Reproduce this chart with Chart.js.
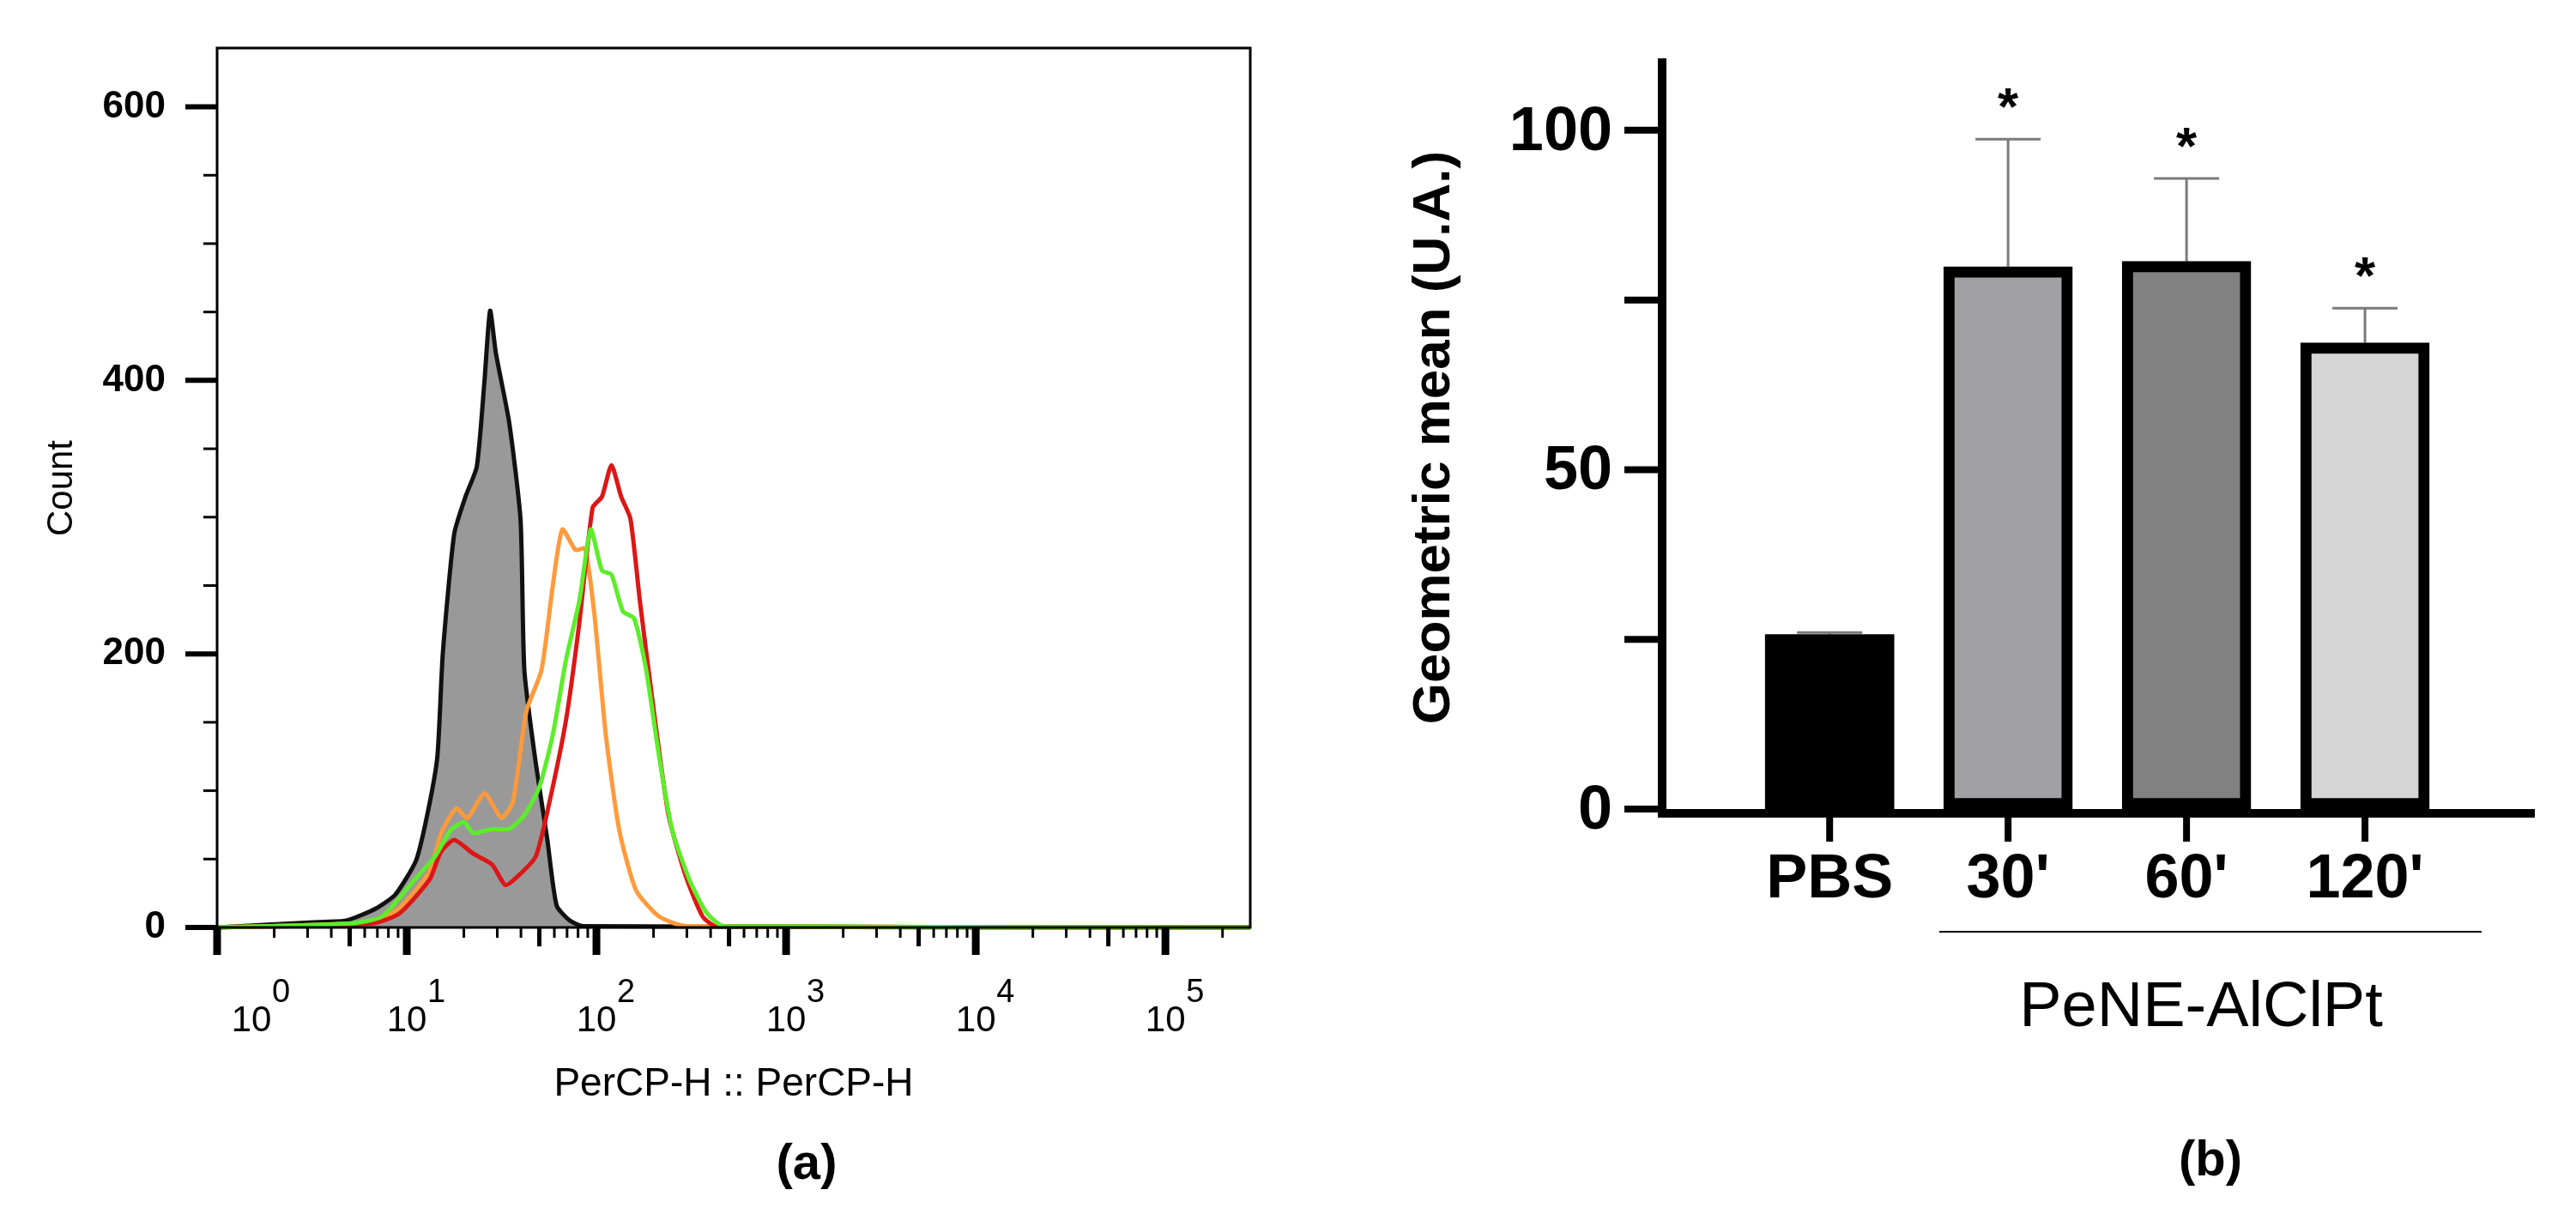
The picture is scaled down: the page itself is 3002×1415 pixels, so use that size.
<!DOCTYPE html>
<html><head><meta charset="utf-8">
<script src="https://cdn.jsdelivr.net/npm/chart.js@4/dist/chart.umd.min.js"></script>
<style>
html,body{margin:0;padding:0;background:#fff;width:3002px;height:1415px;overflow:hidden}
canvas{position:absolute;left:0;top:0}
</style></head><body>
<canvas id="h" width="3002" height="1415"></canvas>
<canvas id="b" width="3002" height="1415"></canvas>
<script>
// ---------- Panel (a) data: histogram (x = PerCP-H intensity, y = count)
const grayX  = [1, 3.4, 4.8, 6.9, 8.7, 11.2, 12.9, 14.5, 15.5, 17.8, 20.4, 23.4, 25.7, 27.5, 29.5, 34.7, 39.8, 41.7, 47.9, 55.0, 61.7, 72.4, 85.1, 280000];
const grayY  = [0, 4, 5, 14, 24, 49, 84, 125, 201, 288, 315, 337, 400, 451, 420, 369, 298, 188, 120, 65, 16, 5, 1, 0];
const orangeX = [1, 6.6, 9.1, 13.2, 15.1, 18.2, 20.9, 25.7, 31.6, 36.3, 42.7, 51.3, 58.9, 66.1, 77.6, 87.1, 97.7, 112, 132, 162, 214, 295, 280000];
const orangeY = [0, 4, 14, 41, 68, 87, 80, 98, 80, 92, 158, 188, 250, 291, 276, 277, 228, 141, 71, 27, 8, 1, 0];
const redX = [1, 6.6, 9.1, 13.2, 15.1, 17.8, 22.4, 28.2, 33.1, 38.9, 47.9, 56.2, 69.2, 81.3, 95.5, 107, 120, 135, 151, 170, 200, 240, 295, 363, 427, 280000];
const redY = [0, 3, 10, 35, 55, 64, 54, 46, 31, 38, 52, 90, 152, 223, 307, 315, 338, 315, 299, 237, 160, 82, 38, 8, 1, 0];
const greenX = [1, 5.1, 7.4, 10.7, 14.1, 17.0, 20.0, 22.4, 28.2, 34.7, 41.7, 50.1, 58.9, 69.2, 81.3, 93.3, 107, 120, 138, 158, 182, 214, 251, 309, 380, 468, 280000];
const greenY = [0, 3, 8, 33, 52, 71, 77, 69, 72, 72, 82, 103, 141, 196, 239, 291, 261, 258, 231, 226, 190, 125, 71, 35, 11, 1, 0];
const histYTicks = [0, 200, 400, 600];
const histXTicks = [1, 10, 100, 1000, 10000, 100000];
const histXExp = ['0', '1', '2', '3', '4', '5'];

// ---------- Panel (b) data: bar chart
const barCats = ['PBS', "30'", "60'", "120'"];
const barVals = [25.7, 79.9, 80.7, 68.7];
const barErr  = [26.0, 98.7, 92.9, 73.8];
const barSig  = ['', '*', '*', '*'];
const barFill = ['#000000', '#a1a1a5', '#818181', '#d5d5d5'];
const barYTicks = [0, 25, 50, 75, 100];
const barYLabels = ['0', '', '50', '', '100'];

const FONT = "'Liberation Sans', Arial, sans-serif";
Chart.defaults.animation = false;

function fixedAxis(w, h) {
  return function (s) { if (w !== null) s.width = w; if (h !== null) s.height = h; };
}

// ---------------- Histogram -----------------
function pts(xs, ys) { return xs.map((x, i) => ({ x: x, y: ys[i] })); }
const histPlugin = {
  id: 'histDecor',
  afterDraw(c) {
    const ctx = c.ctx, a = c.chartArea, xs = c.scales.x, ys = c.scales.y;
    ctx.save();
    ctx.strokeStyle = '#000';
    ctx.lineWidth = 3;
    ctx.strokeRect(a.left, a.top, a.right - a.left, a.bottom - a.top);
    for (let v = 0; v <= 600; v += 50) {
      const y = ys.getPixelForValue(v);
      const major = v % 200 === 0;
      ctx.lineWidth = major ? 6 : 3;
      ctx.beginPath(); ctx.moveTo(a.left - (major ? 37 : 16), y); ctx.lineTo(a.left, y); ctx.stroke();
    }
    ctx.fillStyle = '#000';
    ctx.font = 'bold 44px ' + FONT;
    ctx.textAlign = 'right'; ctx.textBaseline = 'middle';
    histYTicks.forEach(v => ctx.fillText(String(v), 193, ys.getPixelForValue(v)));
    for (let d = 0; d < 6; d++) {
      for (let m = 1; m < 10; m++) {
        const v = Math.pow(10, d) * m;
        if (v > xs.max) break;
        const x = xs.getPixelForValue(v);
        let len = 12, w = 3;
        if (m === 1) { len = 32; w = 9; } else if (m === 5) { len = 22; w = 5; }
        ctx.lineWidth = w;
        ctx.beginPath(); ctx.moveTo(x, a.bottom); ctx.lineTo(x, a.bottom + len); ctx.stroke();
      }
    }
    histXTicks.forEach((v, i) => {
      let x = xs.getPixelForValue(v);
      if (i === 0) x += 40;
      ctx.font = '42px ' + FONT; ctx.textAlign = 'center'; ctx.textBaseline = 'alphabetic';
      ctx.fillText('10', x, 1202);
      ctx.font = '38px ' + FONT; ctx.textAlign = 'left';
      ctx.fillText(histXExp[i], x + 24, 1168);
    });
    ctx.font = '46px ' + FONT; ctx.textAlign = 'center';
    ctx.fillText('PerCP-H :: PerCP-H', 855, 1277);
    ctx.save(); ctx.translate(72, 569); ctx.rotate(-Math.PI / 2);
    ctx.textBaseline = 'middle'; ctx.font = '42px ' + FONT; ctx.fillText('Count', 0, 0); ctx.restore();
    ctx.font = 'bold 58px ' + FONT; ctx.textAlign = 'center'; ctx.textBaseline = 'middle';
    ctx.fillText('(a)', 940, 1358);
    ctx.restore();
  }
};
new Chart(document.getElementById('h'), {
  type: 'line',
  data: {
    datasets: [
      { order: 4, data: pts(grayX, grayY), borderColor: '#111', backgroundColor: '#999999', fill: 'origin', borderWidth: 5, pointRadius: 0, tension: 0.2 },
      { order: 3, data: pts(orangeX, orangeY), borderColor: '#ff9a3c', fill: false, borderWidth: 5, pointRadius: 0, tension: 0.2 },
      { order: 2, data: pts(redX, redY), borderColor: '#dd1616', fill: false, borderWidth: 5, pointRadius: 0, tension: 0.2 },
      { order: 1, data: pts(greenX, greenY), borderColor: '#5ded2a', fill: false, borderWidth: 5, pointRadius: 0, tension: 0.2 }
    ]
  },
  options: {
    responsive: false, devicePixelRatio: 1, clip: false,
    layout: { padding: { left: 0, top: 56, right: 1545, bottom: 0 } },
    plugins: { legend: { display: false }, tooltip: { enabled: false } },
    scales: {
      x: { type: 'logarithmic', min: 1, max: 280000, grid: { display: false }, border: { display: false }, ticks: { display: false }, afterFit: fixedAxis(null, 334) },
      y: { type: 'linear', min: 0, max: 643, grid: { display: false }, border: { display: false }, ticks: { display: false }, afterFit: fixedAxis(253, null) }
    }
  },
  plugins: [histPlugin]
});

// ---------------- Bar chart -----------------
const barPlugin = {
  id: 'barDecor',
  beforeDatasetsDraw(c) {
    const ctx = c.ctx, xs = c.scales.x, ys = c.scales.y;
    ctx.save();
    ctx.strokeStyle = '#7a7a7a'; ctx.lineWidth = 3;
    barVals.forEach((v, i) => {
      const x = xs.getPixelForValue(i), y0 = ys.getPixelForValue(v), y1 = ys.getPixelForValue(barErr[i]);
      ctx.beginPath(); ctx.moveTo(x, y0); ctx.lineTo(x, y1);
      ctx.moveTo(x - 38, y1); ctx.lineTo(x + 38, y1); ctx.stroke();
    });
    ctx.restore();
  },
  afterDraw(c) {
    const ctx = c.ctx, a = c.chartArea, xs = c.scales.x, ys = c.scales.y;
    ctx.save();
    ctx.strokeStyle = '#000'; ctx.fillStyle = '#000'; ctx.lineWidth = 10;
    ctx.beginPath(); ctx.moveTo(a.left, a.top); ctx.lineTo(a.left, a.bottom + 5); ctx.lineTo(a.right, a.bottom + 5); ctx.stroke();
    ctx.lineWidth = 8;
    ctx.font = 'bold 72px ' + FONT; ctx.textAlign = 'right'; ctx.textBaseline = 'middle';
    barYTicks.forEach((v, i) => {
      const y = ys.getPixelForValue(v);
      ctx.beginPath(); ctx.moveTo(a.left - 44, y); ctx.lineTo(a.left, y); ctx.stroke();
      if (barYLabels[i]) ctx.fillText(barYLabels[i], 1879, y + 3);
    });
    ctx.textAlign = 'center';
    barCats.forEach((t, i) => {
      const x = xs.getPixelForValue(i);
      ctx.beginPath(); ctx.moveTo(x, a.bottom); ctx.lineTo(x, a.bottom + 38); ctx.stroke();
      ctx.fillText(t, x, 1026);
      if (barSig[i]) {
        ctx.font = 'bold 62px ' + FONT;
        ctx.fillText(barSig[i], x, ys.getPixelForValue(barErr[i]) - 34);
        ctx.font = 'bold 72px ' + FONT;
      }
    });
    ctx.lineWidth = 2;
    ctx.beginPath(); ctx.moveTo(2260, 1086); ctx.lineTo(2892, 1086); ctx.stroke();
    ctx.font = '74px ' + FONT; ctx.textBaseline = 'middle';
    ctx.fillText('PeNE-AlClPt', 2565, 1176);
    ctx.save(); ctx.translate(1672, 510); ctx.rotate(-Math.PI / 2);
    ctx.font = 'bold 62px ' + FONT; ctx.fillText('Geometric mean (U.A.)', 0, 0); ctx.restore();
    ctx.font = 'bold 58px ' + FONT;
    ctx.fillText('(b)', 2576, 1354);
    ctx.restore();
  }
};
new Chart(document.getElementById('b'), {
  type: 'bar',
  data: {
    datasets: [{
      data: barVals.map((v, i) => ({ x: i, y: v })),
      backgroundColor: barFill,
      borderColor: '#000',
      borderWidth: [0, 13, 13, 13],
      borderSkipped: false,
      barThickness: 150
    }]
  },
  options: {
    responsive: false, devicePixelRatio: 1,
    layout: { padding: { left: 0, top: 68, right: 48, bottom: 0 } },
    plugins: { legend: { display: false }, tooltip: { enabled: false } },
    scales: {
      x: { type: 'linear', min: -0.667, max: 3.68, grid: { display: false }, border: { display: false }, ticks: { display: false }, afterFit: fixedAxis(null, 472) },
      y: { type: 'linear', min: 0, max: 110.6, grid: { display: false }, border: { display: false }, ticks: { display: false }, afterFit: fixedAxis(1937, null) }
    }
  },
  plugins: [barPlugin]
});
</script>
</body></html>
